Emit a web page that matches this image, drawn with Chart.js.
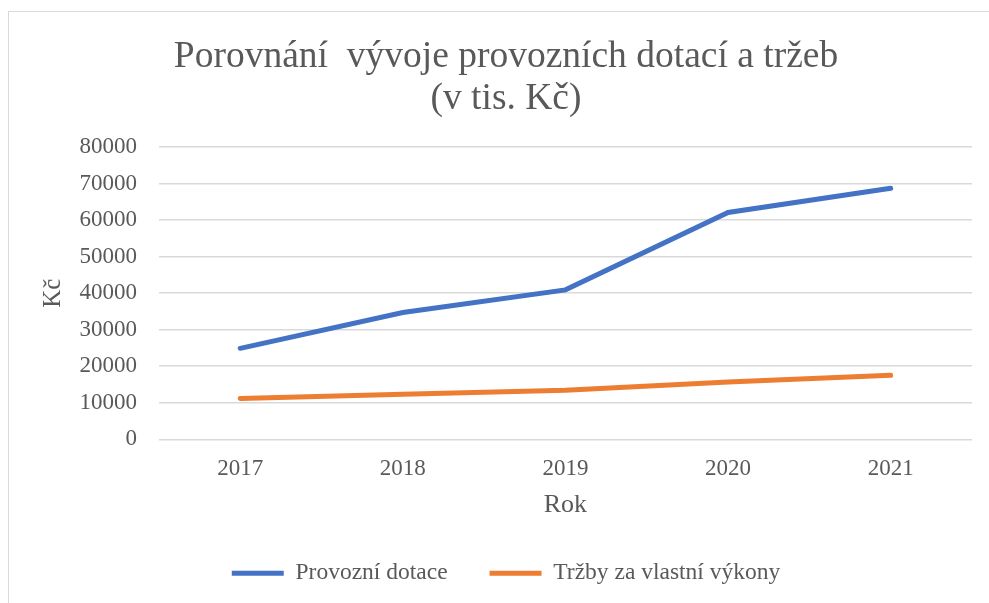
<!DOCTYPE html>
<html>
<head>
<meta charset="utf-8">
<script src="https://cdn.jsdelivr.net/npm/chart.js@4.4.0/dist/chart.umd.min.js"></script>
<style>
  html, body { margin: 0; padding: 0; background: #fff; }
  #wrap { position: relative; width: 989px; height: 603px; }
  #frame {
    position: absolute; left: 8px; top: 11px; right: -5px; bottom: -5px;
    border-left: 1.5px solid #d9d9d9; border-top: 1.5px solid #d9d9d9;
    pointer-events: none;
  }
  canvas { position: absolute; left: 0; top: 0; }
</style>
</head>
<body>
<div id="wrap">
  <canvas id="chart" width="989" height="603"></canvas>
  <div id="frame"></div>
</div>
<script>
// data
const years = ['2017', '2018', '2019', '2020', '2021'];
const provozniDotace = [24900, 34700, 40900, 62100, 68700];
const trzby = [11200, 12300, 13400, 15700, 17500];

const textColor = '#595959';
const serif = "'Liberation Serif', 'Times New Roman', serif";

const ctx = document.getElementById('chart').getContext('2d');
const chart = new Chart(ctx, {
    type: 'line',
    data: {
        labels: years,
        datasets: [{
            label: 'Provozní dotace',
            data: provozniDotace,
            borderColor: '#4472C4',
            backgroundColor: '#4472C4',
            borderWidth: 5,
            borderCapStyle: 'round',
            pointRadius: 0,
            tension: 0
        }, {
            label: 'Tržby za vlastní výkony',
            data: trzby,
            borderColor: '#ED7D31',
            backgroundColor: '#ED7D31',
            borderWidth: 5,
            borderCapStyle: 'round',
            pointRadius: 0,
            tension: 0
        }]
    },
    options: {
        responsive: false,
        animation: false,
        layout: {
            padding: { left: 40, right: 17, top: 36, bottom: 8 }
        },
        plugins: {
            title: {
                display: true,
                text: ['Porovnání  vývoje provozních dotací a tržeb', '(v tis. Kč)'],
                color: textColor,
                font: { family: serif, size: 37.5, weight: 'normal', lineHeight: 1.12 },
                padding: { top: 0, bottom: 27 }
            },
            legend: {
                position: 'bottom',
                labels: {
                    color: textColor,
                    font: { family: serif, size: 23.5 },
                    usePointStyle: true,
                    pointStyle: 'line',
                    pointStyleWidth: 52,
                    padding: 42
                }
            },
            tooltip: { enabled: false }
        },
        scales: {
            x: {
                offset: true,
                grid: { display: false, drawTicks: false },
                border: { display: false },
                ticks: {
                    color: textColor,
                    font: { family: serif, size: 23 },
                    padding: 15.5
                },
                title: {
                    display: true,
                    text: 'Rok',
                    color: textColor,
                    font: { family: serif, size: 26, lineHeight: 1.1 },
                    padding: { top: -7, bottom: 0 }
                }
            },
            y: {
                min: 0,
                max: 80000,
                ticks: {
                    stepSize: 10000,
                    color: textColor,
                    font: { family: serif, size: 23 },
                    padding: 22,
                    callback: (v) => String(v)
                },
                grid: {
                    color: '#d9d9d9',
                    lineWidth: 1.5,
                    drawTicks: false
                },
                border: { display: false },
                title: {
                    display: true,
                    text: 'Kč',
                    color: textColor,
                    font: { family: serif, size: 25 },
                    padding: { top: -2, bottom: -10.6 }
                }
            }
        }
    }
});
</script>
</body>
</html>
